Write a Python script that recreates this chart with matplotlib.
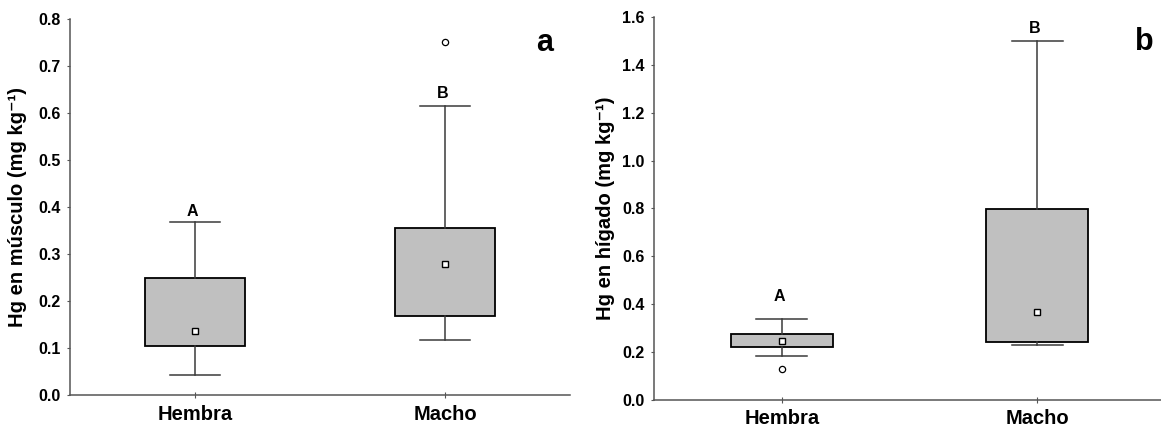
import matplotlib
matplotlib.use("Agg")
import matplotlib.pyplot as plt

plt.rcParams["font.family"] = ["Liberation Sans", "DejaVu Sans"]
plt.rcParams["font.weight"] = "bold"

groups = ["Hembra", "Macho"]

# panel a: Hg en musculo
musc_whislo = [0.043, 0.116]
musc_q1 = [0.105, 0.169]
musc_med = [0.137, 0.279]
musc_q3 = [0.250, 0.356]
musc_whishi = [0.369, 0.615]
musc_fliers = [[], [0.752]]
musc_letters = ["A", "B"]
musc_letter_y = [0.39, 0.642]

# panel b: Hg en higado
hig_whislo = [0.184, 0.230]
hig_q1 = [0.219, 0.241]
hig_med = [0.244, 0.367]
hig_q3 = [0.276, 0.797]
hig_whishi = [0.336, 1.500]
hig_fliers = [[0.130], []]
hig_letters = ["A", "B"]
hig_letter_y = [0.431, 1.554]

LINE = "#3a3a3a"
FILL = "#c0c0c0"


def make_stats(lo, q1, med, q3, hi, fl):
    return [dict(whislo=lo[i], q1=q1[i], med=med[i], q3=q3[i], whishi=hi[i],
                 fliers=fl[i], mean=med[i], label=groups[i])
            for i in range(len(groups))]


def draw_panel(ax, stats, letters, letter_y, ylim, yticks, ylabel, tag, tag_xy, xlim):
    ax.bxp(stats, positions=[1, 2], widths=0.4, patch_artist=True,
           showmeans=True,
           boxprops=dict(facecolor=FILL, edgecolor="black", linewidth=1.3),
           whiskerprops=dict(color=LINE, linewidth=1.1),
           capprops=dict(color=LINE, linewidth=1.1),
           capwidths=0.2,
           medianprops=dict(linewidth=0),
           meanprops=dict(marker="s", markerfacecolor="white",
                          markeredgecolor="black", markersize=4.5,
                          markeredgewidth=1),
           flierprops=dict(marker="o", markerfacecolor="white",
                           markeredgecolor="black", markersize=4.5,
                           markeredgewidth=0.9))
    for i, (lt, ly) in enumerate(zip(letters, letter_y)):
        ax.text(i + 0.99, ly, lt, ha="center", va="center",
                fontsize=11.5, fontweight="bold")
    ax.text(tag_xy[0], tag_xy[1], tag, ha="center", va="center",
            fontsize=22, fontweight="bold")
    ax.set_xlim(*xlim)
    ax.set_ylim(*ylim)
    ax.set_yticks(yticks)
    ax.set_yticklabels([f"{t:.1f}" for t in yticks], fontsize=11.5,
                       fontweight="bold")
    ax.set_xticks([1, 2])
    ax.set_xticklabels(groups, fontsize=14.5, fontweight="bold")
    ax.set_ylabel(ylabel, fontsize=14.5, fontweight="bold")
    for s in ["top", "right"]:
        ax.spines[s].set_visible(False)
    for s in ["left", "bottom"]:
        ax.spines[s].set_color("#555555")
        ax.spines[s].set_linewidth(1.1)
    ax.tick_params(axis="y", direction="out", length=2, width=0.8,
                   color="#555555", pad=5)
    ax.tick_params(axis="x", direction="inout", length=4, width=0.8,
                   color="#555555", pad=5)


fig = plt.figure(figsize=(11.61, 4.28), dpi=100)
ax1 = fig.add_axes([70 / 1161, 1 - 395 / 428, 500 / 1161, 376 / 428])
ax2 = fig.add_axes([654 / 1161, 1 - 399.7 / 428, 507 / 1161, 382.4 / 428])

draw_panel(ax1,
           make_stats(musc_whislo, musc_q1, musc_med, musc_q3, musc_whishi, musc_fliers),
           musc_letters, musc_letter_y, (0, 0.8),
           [0.0, 0.1, 0.2, 0.3, 0.4, 0.5, 0.6, 0.7, 0.8],
           "Hg en músculo (mg kg\u207b\u00b9)", "a", (2.4, 0.749),
           (0.5, 2.5))
draw_panel(ax2,
           make_stats(hig_whislo, hig_q1, hig_med, hig_q3, hig_whishi, hig_fliers),
           hig_letters, hig_letter_y, (0, 1.6),
           [0.0, 0.2, 0.4, 0.6, 0.8, 1.0, 1.2, 1.4, 1.6],
           "Hg en hígado (mg kg\u207b\u00b9)", "b", (2.42, 1.498),
           (0.5, 2.484))

ax1.yaxis.set_label_coords(-43 / 500, 0.5)
ax2.yaxis.set_label_coords(-39 / 507, 0.5)

fig.savefig("out.png", dpi=100)
